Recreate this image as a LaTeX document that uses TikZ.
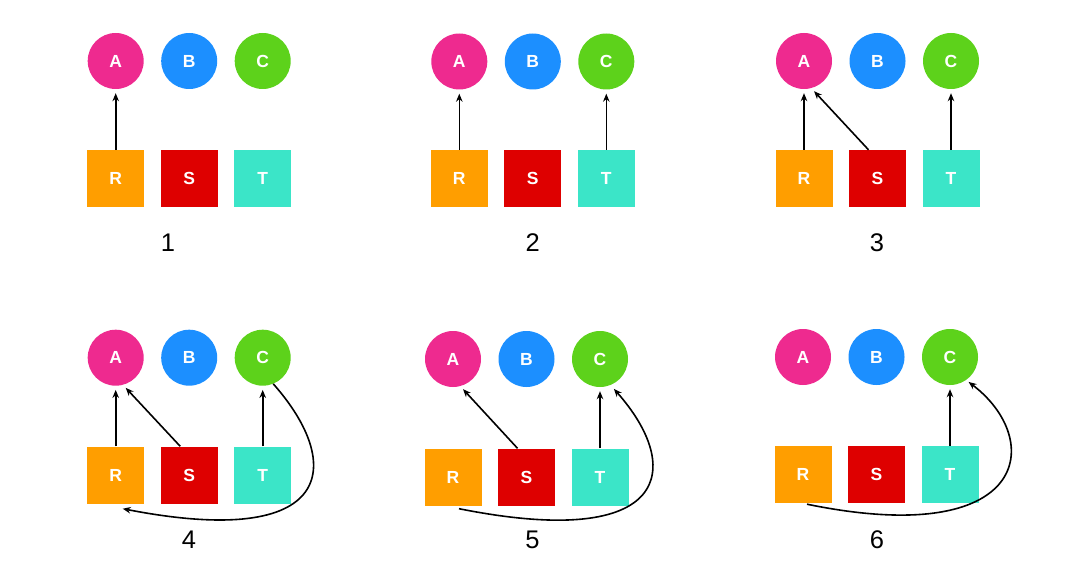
\documentclass[tikz,border=0pt]{standalone}
\usepackage{fontspec}
\setmainfont{Liberation Sans}
\usetikzlibrary{arrows.meta}
\definecolor{cA}{HTML}{EE2A8F}
\definecolor{cB}{HTML}{1C8FFF}
\definecolor{cC}{HTML}{5DD21B}
\definecolor{cR}{HTML}{FF9E00}
\definecolor{cS}{HTML}{DE0000}
\definecolor{cT}{HTML}{3BE5C8}
\newcommand\mypanel[6]{%
  \node[circ=cA] (A#1) at (#2,#3) {A};
  \node[circ=cB] (B#1) at (#2+73.5,#3) {B};
  \node[circ=cC] (C#1) at (#2+147,#3) {C};
  \node[sq=cR] (R#1) at (#2,#4) {R};
  \node[sq=cS] (S#1) at (#2+73.5,#4) {S};
  \node[sq=cT] (T#1) at (#2+147,#4) {T};
  \node[num] (N#1) at (#5,#6) {#1};
}
\begin{document}
\begin{tikzpicture}[x=1pt,y=-1pt,
  circ/.style={circle,fill=#1,minimum size=56pt,inner sep=0pt,text=white,
    font=\fontsize{17.5}{17.5}\selectfont\bfseries},
  sq/.style={rectangle,fill=#1,minimum size=57pt,inner sep=0pt,text=white,
    font=\fontsize{17.5}{17.5}\selectfont\bfseries},
  num/.style={inner sep=0pt,font=\fontsize{25.5}{25.5}\selectfont},
  arr/.style={-{Stealth[length=8pt,width=6.5pt]},line width=1.6pt,shorten >=4pt}]
\path[use as bounding box,fill=white] (0,0) rectangle (1089,567);

\mypanel{1}{115.7}{61}{178.5}{168}{243}
\mypanel{2}{459.3}{61.5}{178.5}{532.7}{243}
\mypanel{3}{804}{61}{178.5}{877}{242.5}
\mypanel{4}{115.7}{357.7}{475}{189}{540}
\mypanel{5}{453}{359}{477}{532.5}{540}
\mypanel{6}{803}{357}{474.5}{877}{540}

% panel 1
\draw[arr] (R1.north) -- (A1.south);
% panel 2
\draw[arr] (R2.north) -- (A2.south);
\draw[arr] (T2.north) -- (C2.south);
% panel 3
\draw[arr] (R3.north) -- (A3.south);
\draw[arr] ([xshift=-9pt]S3.north) -- (A3.-75);
\draw[arr] (T3.north) -- (C3.south);
% panel 4
\draw[arr] (R4.north) -- (A4.south);
\draw[arr] ([xshift=-9pt]S4.north) -- (A4.-75);
\draw[arr] (T4.north) -- (C4.south);
\draw[arr,shorten >=0pt] (C4.-68) .. controls (345,465) and (335,550) .. ([xshift=7pt,yshift=-5pt]R4.south);
% panel 5
\draw[arr] ([xshift=-9pt]S5.north) -- (A5.-75);
\draw[arr] (T5.north) -- (C5.south);
\draw[arr,shorten >=5pt] ([xshift=6pt,yshift=-3pt]R5.south) .. controls (671,551) and (684,468) .. (C5.-68);
% panel 6
\draw[arr] (T6.north) -- (C6.south);
\draw[arr,shorten >=3pt] ([xshift=4pt,yshift=-1pt]R6.south) .. controls (1030,550) and (1045,440) .. (C6.-55);
\end{tikzpicture}
\end{document}
